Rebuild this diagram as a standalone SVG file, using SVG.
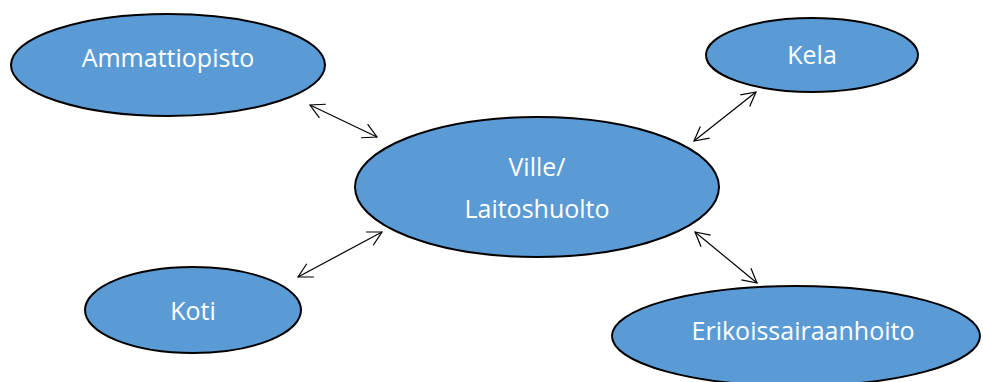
<svg xmlns="http://www.w3.org/2000/svg" width="983" height="382" viewBox="0 0 983 382">
  <style>
    .node ellipse { fill: #5B9BD5; stroke: #000; stroke-width: 2; }
    .node text { fill: #fff; font-family: "Open Sans", "Liberation Sans", sans-serif; font-size: 25px; text-anchor: middle; }
    .link { stroke: #000; stroke-width: 1.2; fill: none; marker-start: url(#head); marker-end: url(#head); }
  </style>
  <defs>
    <!-- open V arrowhead, used at both ends of every link -->
    <marker id="head" viewBox="0 0 17 17" refX="15" refY="8.5" markerWidth="17" markerHeight="17" markerUnits="userSpaceOnUse" orient="auto-start-reverse">
      <path d="M1,1 L15,8.5 L1,16" fill="none" stroke="#000" stroke-width="1.2"/>
    </marker>
  </defs>

  <g id="connectors">
    <line class="link" x1="310" y1="105" x2="377" y2="137"/>
    <line class="link" x1="694" y1="141" x2="756" y2="92"/>
    <line class="link" x1="298" y1="277" x2="382" y2="232"/>
    <line class="link" x1="695" y1="232" x2="757" y2="283"/>
  </g>

  <g id="node-ammattiopisto" class="node">
    <ellipse cx="168" cy="65" rx="157" ry="51"/>
    <text x="168" y="67">Ammattiopisto</text>
  </g>
  <g id="node-kela" class="node">
    <ellipse cx="812" cy="55" rx="106" ry="37"/>
    <text x="812" y="64">Kela</text>
  </g>
  <g id="node-ville" class="node">
    <ellipse cx="537" cy="187" rx="182" ry="70"/>
    <text x="537" y="176">Ville/</text>
    <text x="537" y="218">Laitoshuolto</text>
  </g>
  <g id="node-koti" class="node">
    <ellipse cx="193" cy="310" rx="108" ry="43"/>
    <text x="193" y="320">Koti</text>
  </g>
  <g id="node-erikoissairaanhoito" class="node">
    <ellipse cx="796" cy="336" rx="184" ry="50"/>
    <text x="803" y="340">Erikoissairaanhoito</text>
  </g>
</svg>
